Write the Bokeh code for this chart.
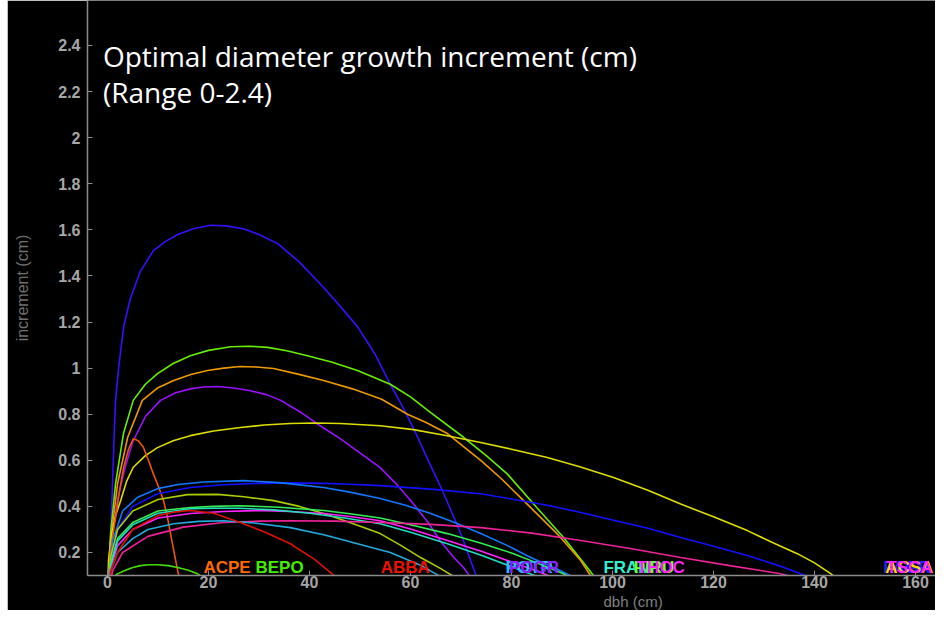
from bokeh.plotting import figure
from bokeh.models import Range1d, FixedTicker, CustomJSTickFormatter, Label, Spacer, Title
from bokeh.layouts import row
from bokeh.embed import file_html
from bokeh.resources import INLINE

# ---- data ----
dbh_c01 = [0, 0.3, 0.6, 1.0, 1.3, 1.6, 2.2, 3.2, 4.5, 6.5, 9.1, 11.5, 13.9, 17, 20.4, 23.5, 26.9, 30, 33.7, 38,
           42.8, 46, 49.5, 53, 56, 58.5, 61, 63.5, 66.3, 70, 73.3, 74.5]
inc_c01 = [0, 0.12, 0.25, 0.5, 0.7, 0.86, 1.0, 1.18, 1.3, 1.42, 1.51, 1.55, 1.58, 1.605, 1.62, 1.617, 1.605, 1.58, 1.54, 1.46,
           1.35, 1.27, 1.18, 1.06, 0.93, 0.83, 0.72, 0.6, 0.47, 0.28, 0.08, 0.0]

dbh_c02 = [0, 0.3, 0.6, 1.6, 3.2, 5.1, 7.5, 9.9, 13, 16.4, 20, 24.4, 28, 31.7, 35.5, 39.6, 44.5, 49.5, 56, 60, 64, 70.5,
           75, 79.2, 85, 90.3, 95, 97, 98.2]
inc_c02 = [0, 0.15, 0.28, 0.5, 0.72, 0.86, 0.93, 0.976, 1.02, 1.054, 1.077, 1.093, 1.095, 1.09, 1.075, 1.054, 1.025, 0.99,
           0.93, 0.875, 0.807, 0.70, 0.62, 0.54, 0.395, 0.265, 0.135, 0.078, 0]

dbh_c03 = [0, 0.3, 0.7, 2, 4, 6.9, 10, 13.1, 16.5, 19.8, 23, 26.3, 29.5, 32.9, 37.5, 42.8, 48.5, 54.3, 59.4, 63, 67.3,
           73.9, 78, 82.4, 89.1, 93.7, 96.3, 97.5]
inc_c03 = [0, 0.13, 0.26, 0.5, 0.7, 0.86, 0.915, 0.946, 0.972, 0.99, 1.0, 1.007, 1.005, 0.998, 0.975, 0.946, 0.91, 0.865,
           0.80, 0.765, 0.716, 0.60, 0.52, 0.425, 0.28, 0.165, 0.078, 0]

dbh_c04 = [0, 0.4, 1, 2, 3.5, 5, 7.5, 10.5, 13.5, 16.4, 19, 21.8, 25, 28.3, 31.5, 34.3, 38.5, 42.8, 46, 49.5, 54, 57.5,
           60.6, 63.5, 65.9, 68.5, 70.5, 72.3, 73.5]
inc_c04 = [0, 0.12, 0.28, 0.43, 0.57, 0.68, 0.79, 0.86, 0.893, 0.91, 0.918, 0.92, 0.914, 0.902, 0.885, 0.86, 0.805, 0.74,
           0.695, 0.64, 0.568, 0.49, 0.41, 0.33, 0.25, 0.18, 0.135, 0.078, 0]

dbh_c05 = [0, 0.2, 0.8, 1.6, 2.6, 3.8, 5.1, 7.5, 9.9, 13, 16.4, 21, 26.3, 31, 36.2, 41, 46.1, 54, 60.6, 67, 73.9, 80,
           87.1, 93.5, 100.2, 107, 113.5, 120, 126.7, 132, 136.6, 140, 143.2, 145, 146]
inc_c05 = [0, 0.165, 0.28, 0.36, 0.425, 0.51, 0.57, 0.62, 0.655, 0.685, 0.707, 0.727, 0.742, 0.753, 0.76, 0.762, 0.76,
           0.75, 0.733, 0.708, 0.677, 0.648, 0.612, 0.572, 0.525, 0.47, 0.41, 0.355, 0.295, 0.24, 0.195, 0.155, 0.108,
           0.078, 0]

dbh_c06 = [0, 0.6, 1.6, 2.4, 3.2, 4.2, 5.1, 6.1, 7.1, 8.1, 9.1, 10.1, 11.1, 11.8, 12.5, 13.5, 14.3, 14.6]
inc_c06 = [0, 0.21, 0.35, 0.47, 0.57, 0.65, 0.693, 0.685, 0.657, 0.6, 0.54, 0.485, 0.425, 0.36, 0.28, 0.165, 0.078, 0]

dbh_c07 = [0, 0.5, 2, 5, 9.9, 16.4, 23, 29.7, 36, 42.8, 48, 54, 64, 73.9, 80, 87.1, 93.5, 100.2, 107, 113.5, 120, 126.7,
           133, 139.8, 142]
inc_c07 = [0, 0.15, 0.3, 0.4, 0.455, 0.482, 0.494, 0.5, 0.502, 0.5, 0.496, 0.49, 0.475, 0.455, 0.432, 0.405, 0.375, 0.34,
           0.305, 0.265, 0.227, 0.187, 0.142, 0.087, 0]

dbh_c08 = [0, 1, 3, 6, 9.9, 14, 19, 26.9, 34, 42.8, 48, 54, 59, 64, 69, 73.9, 79, 83.8, 89, 93.7, 95]
inc_c08 = [0, 0.25, 0.38, 0.44, 0.477, 0.495, 0.506, 0.512, 0.503, 0.482, 0.462, 0.434, 0.405, 0.369, 0.328, 0.282,
           0.232, 0.178, 0.128, 0.078, 0]

dbh_c09 = [0, 0.6, 2, 5, 10, 15.8, 21.8, 27, 32.9, 38, 42.8, 48, 54, 58, 62, 66, 69.9, 71.5]
inc_c09 = [0, 0.18, 0.3, 0.38, 0.43, 0.451, 0.452, 0.442, 0.425, 0.4, 0.369, 0.33, 0.282, 0.232, 0.178, 0.13, 0.078, 0]

dbh_c10 = [0, 0.6, 2, 5, 10, 16.4, 21, 26.3, 34, 42.8, 48, 54, 60, 67.3, 74, 80.4, 85, 90.3, 93, 94]
inc_c10 = [0, 0.15, 0.26, 0.33, 0.38, 0.395, 0.4, 0.403, 0.396, 0.382, 0.368, 0.35, 0.32, 0.282, 0.24, 0.195, 0.155,
           0.108, 0.07, 0]

dbh_c11 = [0, 0.6, 2, 5, 10, 16.4, 23, 29.7, 36, 42.8, 48, 54, 60, 67.3, 74, 80.4, 85, 88.3, 91]
inc_c11 = [0, 0.13, 0.23, 0.3, 0.35, 0.369, 0.378, 0.382, 0.378, 0.369, 0.356, 0.338, 0.302, 0.252, 0.205, 0.156,
           0.12, 0.091, 0]

dbh_c12 = [0, 0.6, 2, 5, 10, 16.4, 21, 26, 33, 40, 47, 54, 60, 67.3, 74, 80.4, 85.7, 88.5]
inc_c12 = [0, 0.14, 0.25, 0.32, 0.37, 0.39, 0.392, 0.392, 0.385, 0.37, 0.35, 0.325, 0.288, 0.238, 0.188, 0.135,
           0.091, 0]

dbh_c13 = [0, 1, 3, 8, 15, 23, 30, 36.2, 45, 54, 64, 73.9, 84, 93.7, 103.5, 113.5, 123.5, 133.3, 138, 140]
inc_c13 = [0, 0.12, 0.2, 0.27, 0.31, 0.33, 0.336, 0.338, 0.336, 0.33, 0.322, 0.308, 0.284, 0.252, 0.217, 0.178,
           0.142, 0.108, 0.08, 0]

dbh_c14 = [0, 0.6, 2, 5, 8, 13.1, 18, 23, 29, 36.2, 43, 49.5, 56, 62, 67.3, 69]
inc_c14 = [0, 0.12, 0.2, 0.26, 0.3, 0.325, 0.335, 0.338, 0.328, 0.308, 0.276, 0.238, 0.2, 0.145, 0.078, 0]

dbh_c15 = [0, 0.6, 2, 5, 10, 13, 16.4, 21, 26.3, 31, 36.2, 41, 46.1, 47.5]
inc_c15 = [0, 0.12, 0.2, 0.3, 0.36, 0.375, 0.382, 0.37, 0.33, 0.29, 0.238, 0.17, 0.078, 0]

dbh_c16 = [0, 0.6, 1.8, 3.2, 5, 6.5, 8.2, 9.9, 12, 13.9, 16, 17.8, 19.8, 21, 22]
inc_c16 = [0, 0.08, 0.105, 0.12, 0.135, 0.143, 0.147, 0.147, 0.143, 0.135, 0.123, 0.108, 0.078, 0.05, 0]

curve_colors = ["#3311ff", "#66ee00", "#ee9900", "#9911ff", "#dddd00", "#ee5500",
                "#1111ff", "#1177ff", "#aacc00", "#33ee55", "#ff22ff", "#22ddbb",
                "#ee2299", "#22aadd", "#dd1100", "#44dd00"]

label_text = ["ACPE", "BEPO", "ABBA", "POTR", "POGR", "FRAM", "PIRU", "THOC", "FAGR", "ACSA", "TSCA"]
label_dbh = [19.0, 29.3, 54.1, 78.8, 79.5, 98.2, 104.2, 104.8, 153.6, 154.0, 154.2]
label_color = ["#ff6a00", "#44ee00", "#ee1100", "#33bbff", "#8822ff", "#33eecc", "#66ff33",
               "#ff22ff", "#2222ff", "#ffdd00", "#ff22ff"]

x_ticks = [0, 20, 40, 60, 80, 100, 120, 140, 160]
y_ticks = [0.2, 0.4, 0.6, 0.8, 1.0, 1.2, 1.4, 1.6, 1.8, 2.0, 2.2, 2.4]

all_dbh = [dbh_c01, dbh_c02, dbh_c03, dbh_c04, dbh_c05, dbh_c06, dbh_c07, dbh_c08,
           dbh_c09, dbh_c10, dbh_c11, dbh_c12, dbh_c13, dbh_c14, dbh_c15, dbh_c16]
all_inc = [inc_c01, inc_c02, inc_c03, inc_c04, inc_c05, inc_c06, inc_c07, inc_c08,
           inc_c09, inc_c10, inc_c11, inc_c12, inc_c13, inc_c14, inc_c15, inc_c16]

# ---- figure ----
p = figure(width=928, height=610,
           x_range=Range1d(-3.96, 163.96), y_range=Range1d(0.1002, 2.595),
           output_backend="svg", toolbar_location=None,
           background_fill_color="black", border_fill_color="black",
           min_border_left=80, min_border_right=0, min_border_top=0, min_border_bottom=35,
           outline_line_color=None)
p.grid.visible = False

for xs, ys, c in zip(all_dbh, all_inc, curve_colors):
    p.line(xs, ys, line_color=c, line_width=1.6)

# axes
p.xaxis.ticker = FixedTicker(ticks=x_ticks)
p.yaxis.ticker = FixedTicker(ticks=y_ticks)
p.yaxis.formatter = CustomJSTickFormatter(code="return (Math.round(tick*10)/10).toString();")
for ax in (p.xaxis, p.yaxis):
    ax.axis_line_color = "#8c8c8c"
    ax.axis_line_width = 1.5
    ax.major_tick_line_color = "#8c8c8c"
    ax.major_tick_in = 5
    ax.major_tick_out = 0
    ax.minor_tick_line_color = None
    ax.major_label_text_color = "#a6a6a6"
    ax.major_label_text_font = "Liberation Sans"
    ax.major_label_text_font_style = "bold"
    ax.major_label_text_font_size = "16px"
p.xaxis.major_label_standoff = 0
p.yaxis.major_label_standoff = 7
p.yaxis.axis_label = "increment (cm)"
p.yaxis.axis_label_text_color = "#707070"
p.yaxis.axis_label_text_font = "Liberation Sans"
p.yaxis.axis_label_text_font_style = "normal"
p.yaxis.axis_label_text_font_size = "16px"
p.yaxis.axis_label_standoff = 24

# x axis title, right of centre below the tick labels as in the reference
p.add_layout(Title(text="dbh (cm)", align="left", offset=516, standoff=0,
                   text_color="#808080", text_font="Liberation Sans",
                   text_font_size="15px", text_font_style="normal"), "below")

# species labels at the bottom
for t, xv, c in zip(label_text, label_dbh, label_color):
    p.add_layout(Label(x=xv, y=0.134, text=t, text_color=c, text_font="Liberation Sans",
                       text_font_size="17px", text_font_style="bold", text_baseline="alphabetic"))

# overlay title text
p.add_layout(Label(x=-0.9, y=2.356, text="Optimal diameter growth increment (cm)",
                   text_color="white", text_font="Open Sans", text_font_size="28px",
                   text_baseline="alphabetic"))
p.add_layout(Label(x=-0.9, y=2.196, text="(Range 0-2.4)",
                   text_color="white", text_font="Open Sans", text_font_size="28px",
                   text_baseline="alphabetic"))

layout = row(Spacer(width=7, height=610), p)
open("out.html", "w").write(file_html(layout, INLINE))
